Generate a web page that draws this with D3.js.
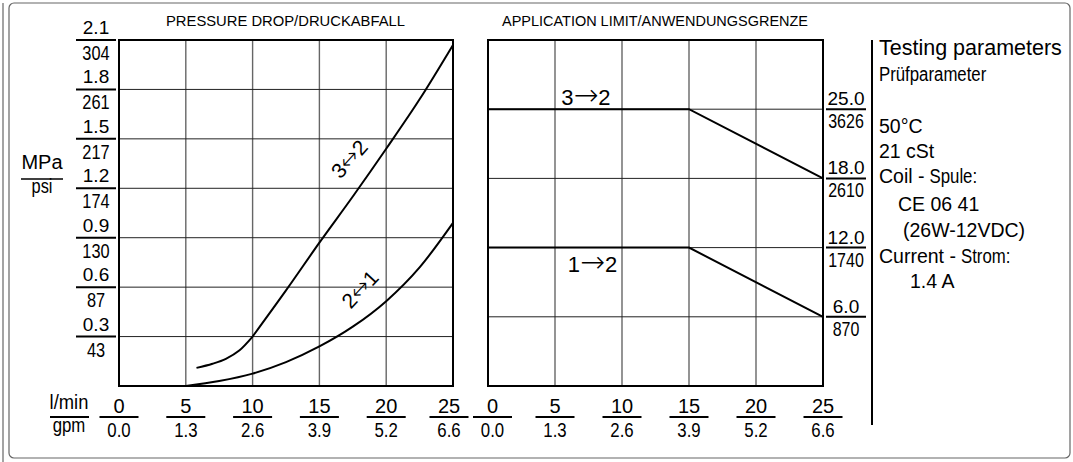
<!DOCTYPE html>
<html>
<head>
<meta charset="utf-8">
<script src="https://cdn.jsdelivr.net/npm/d3@7"></script>
<style>
  body { margin: 0; background: #fff; }
  text { font-family: "Liberation Sans", Arial, sans-serif; fill: #000; white-space: pre; }
  .arrow { font-family: "DejaVu Sans", sans-serif; font-weight: 200; }
</style>
</head>
<body>
<script>
// flow axis (shared by both panels)
let flow_lpm = [0, 5, 10, 15, 20, 25];
let flow_gpm = ['0.0', '1.3', '2.6', '3.9', '5.2', '6.6'];

// pressure drop axis
let drop_mpa = [0.3, 0.6, 0.9, 1.2, 1.5, 1.8, 2.1];
let drop_psi = ['43', '87', '130', '174', '217', '261', '304'];

// application limit axis (bar / psi)
let limit_bar = [6, 12, 18, 25];
let limit_psi = ['870', '1740', '2610', '3626'];

// pressure drop curves  [l/min, MPa]
let curve_32 = [[5.8, 0.11], [7, 0.135], [8, 0.165], [9, 0.215], [10, 0.3], [12.5, 0.58], [15, 0.87],
	[17.5, 1.15], [20, 1.44], [22.5, 1.74], [25, 2.07]];
let curve_21 = [[5, 0], [7.5, 0.03], [10, 0.075], [12.5, 0.145], [15, 0.24], [17.5, 0.36],
	[20, 0.515], [22.5, 0.72], [25, 0.99]];

// application limits  [l/min, bar]
let limit_32 = [[0, 25], [15, 25], [25, 18]];
let limit_12 = [[0, 12], [15, 12], [25, 6]];

let param_lines = ['Testing parameters', 'Prüfparameter', '50°C', '21 cSt', 'Coil - Spule:',
	'CE 06 41', '(26W-12VDC)', 'Current - Strom:', '1.4 A'];

let width = 1073, height = 462;
let plot_top = 40, plot_bottom = 386;
let gridColor = '#666';

let svg = d3.select('body').append('svg')
	.attr('width', width)
	.attr('height', height);

// scales
let x_left = d3.scaleLinear().domain([0, 25]).range([119, 453]);
let y_left = d3.scaleLinear().domain([0, 2.1]).range([plot_bottom, plot_top]);
let x_right = d3.scaleLinear().domain([0, 25]).range([488, 823]);
let limit_domain = [0].concat(limit_bar, [32]);
let y_right = d3.scaleLinear()
	.domain(limit_domain)
	.range(limit_domain.map((d, i) => plot_bottom - i * (plot_bottom - plot_top) / (limit_domain.length - 1)));

// text helper, sx < 1 gives the narrow look of the original
function label(g, x, y, txt, size, anchor, sx) {
	return g.append('text')
		.attr('transform', `translate(${x},${y}) scale(${sx || 1},1)`)
		.attr('text-anchor', anchor || 'start')
		.attr('font-size', size)
		.text(txt);
}

// "3→2" style labels, arrow glyph taken from DejaVu
function arrow_label(x, y, txt, size, arrow_scale, angle) {
	let t = svg.append('text')
		.attr('transform', `translate(${x},${y}) rotate(${angle || 0})`)
		.attr('text-anchor', 'middle')
		.attr('font-size', size);
	if (angle) t.attr('dominant-baseline', 'central');
	t.append('tspan').text(txt[0]);
	t.append('tspan').attr('class', 'arrow').attr('font-size', size * arrow_scale).text(txt[1]);
	t.append('tspan').text(txt[2]);
	return t;
}

// outer frame
svg.append('rect')
	.attr('x', 9).attr('y', 3)
	.attr('width', 1061).attr('height', 455)
	.attr('rx', 5)
	.attr('fill', 'none')
	.attr('stroke', '#666')
	.attr('stroke-width', 1.2);
svg.append('line')
	.attr('x1', 3).attr('x2', 3)
	.attr('y1', 3).attr('y2', height)
	.attr('stroke', '#666')
	.attr('stroke-width', 1.2);

// titles
svg.append('text')
	.attr('x', 166).attr('y', 26)
	.attr('font-size', 15)
	.attr('textLength', 239).attr('lengthAdjust', 'spacingAndGlyphs')
	.text('PRESSURE DROP/DRUCKABFALL');
svg.append('text')
	.attr('x', 502).attr('y', 26)
	.attr('font-size', 15)
	.attr('textLength', 306).attr('lengthAdjust', 'spacingAndGlyphs')
	.text('APPLICATION LIMIT/ANWENDUNGSGRENZE');

// grids
function draw_grid(x, y, h_values) {
	let g = svg.append('g');
	g.selectAll('.vgrid')
		.data(flow_lpm.slice(1, -1))
		.enter().append('line')
		.attr('x1', d => x(d)).attr('x2', d => x(d))
		.attr('y1', plot_top).attr('y2', plot_bottom)
		.attr('stroke', gridColor)
		.attr('stroke-width', 1.4);
	g.selectAll('.hgrid')
		.data(h_values)
		.enter().append('line')
		.attr('x1', x(0)).attr('x2', x(25))
		.attr('y1', d => y(d)).attr('y2', d => y(d))
		.attr('stroke', '#222')
		.attr('stroke-width', 1);
	g.append('rect')
		.attr('x', x(0)).attr('y', plot_top)
		.attr('width', x(25) - x(0)).attr('height', plot_bottom - plot_top)
		.attr('fill', 'none')
		.attr('stroke', '#000')
		.attr('stroke-width', 2);
}
draw_grid(x_left, y_left, drop_mpa.slice(0, -1));
draw_grid(x_right, y_right, limit_bar);

// pressure drop curves; 3<->2 has a kink at 10 l/min, so it is drawn in two pieces
let drop_line = d3.line()
	.x(d => x_left(d[0]))
	.y(d => y_left(d[1]))
	.curve(d3.curveMonotoneX);
let kink = curve_32.findIndex(d => d[0] === 10);
svg.selectAll('.drop-curve')
	.data([curve_32.slice(0, kink + 1), curve_32.slice(kink), curve_21])
	.enter().append('path')
	.attr('class', 'drop-curve')
	.attr('d', drop_line)
	.attr('fill', 'none')
	.attr('stroke', '#000')
	.attr('stroke-width', 2);

// curve labels
arrow_label(x_left(17.2), y_left(1.38), '3↔2', 21, 1.1, -48);
arrow_label(x_left(18.0), y_left(0.59), '2↔1', 21, 1.1, -47);

// limit lines
let limit_line = d3.line()
	.x(d => x_right(d[0]))
	.y(d => y_right(d[1]));
svg.selectAll('.limit-line')
	.data([limit_32, limit_12])
	.enter().append('path')
	.attr('class', 'limit-line')
	.attr('d', limit_line)
	.attr('fill', 'none')
	.attr('stroke', '#000')
	.attr('stroke-width', 2);
arrow_label(x_right(7.3), y_right(25) - 4, '3→2', 22, 1.35);
arrow_label(x_right(7.8), y_right(12) + 24, '1→2', 22, 1.35);

// left axis: MPa over psi
drop_mpa.forEach((v, i) => {
	let y = y_left(v);
	svg.append('line')
		.attr('x1', 76).attr('x2', 116)
		.attr('y1', y).attr('y2', y)
		.attr('stroke', '#000').attr('stroke-width', 2);
	label(svg, 96, y - 6, v.toFixed(1), 19, 'middle');
	label(svg, 96, y + 20, drop_psi[i], 21, 'middle', 0.78);
});
label(svg, 42, 169, 'MPa', 20, 'middle');
svg.append('line')
	.attr('x1', 21).attr('x2', 63)
	.attr('y1', 179).attr('y2', 179)
	.attr('stroke', '#000').attr('stroke-width', 1.5);
label(svg, 42, 193, 'psi', 21, 'middle', 0.78);

// right axis: bar over psi
limit_bar.forEach((v, i) => {
	let y = y_right(v);
	svg.append('line')
		.attr('x1', 826).attr('x2', 866)
		.attr('y1', y).attr('y2', y)
		.attr('stroke', '#000').attr('stroke-width', 2);
	label(svg, 846, y - 4, v.toFixed(1), 19, 'middle');
	label(svg, 846, y + 19, limit_psi[i], 20, 'middle', 0.8);
});

// flow axes
let flow_y = plot_bottom + 31;
[x_left, x_right].forEach((x, p) => {
	flow_lpm.forEach((v, i) => {
		let cx = x(v);
		if (p === 0 && i === flow_lpm.length - 1) cx -= 4;
		if (p === 1 && i === 0) cx += 4.5;
		svg.append('line')
			.attr('x1', cx - 19.5).attr('x2', cx + 19.5)
			.attr('y1', flow_y).attr('y2', flow_y)
			.attr('stroke', '#000').attr('stroke-width', 2);
		label(svg, cx, flow_y - 4, v, 20, 'middle');
		label(svg, cx, flow_y + 20, flow_gpm[i], 21, 'middle', 0.8);
	});
});
label(svg, 69, flow_y - 8, 'l/min', 20, 'middle', 0.92);
svg.append('line')
	.attr('x1', 50).attr('x2', 89)
	.attr('y1', flow_y).attr('y2', flow_y)
	.attr('stroke', '#000').attr('stroke-width', 2);
label(svg, 69, flow_y + 15, 'gpm', 21, 'middle', 0.8);

// testing parameters block
svg.append('line')
	.attr('x1', 872).attr('x2', 872)
	.attr('y1', plot_top).attr('y2', 425)
	.attr('stroke', '#000').attr('stroke-width', 2);

let param_y = [55, 81, 133, 158, 183, 211, 237, 263, 288];
let param_x = [879, 879, 879, 879, 879, 898, 903, 879, 910];
param_lines.forEach((t, i) => {
	let x = param_x[i], y = param_y[i];
	if (i === 0) {
		label(svg, x, y, t, 21.5);
	} else if (i === 1) {
		label(svg, x, y, t, 21, 'start', 0.8);
	} else if (t.indexOf(' - ') > 0) {
		let parts = t.split(' - ');
		let head = label(svg, x, y, parts[0] + ' -', 19.5);
		let w = head.node().getComputedTextLength() + 5;
		label(svg, x + w, y, parts[1], 21, 'start', 0.8);
	} else {
		label(svg, x, y, t, 19.5);
	}
});
</script>
</body>
</html>
